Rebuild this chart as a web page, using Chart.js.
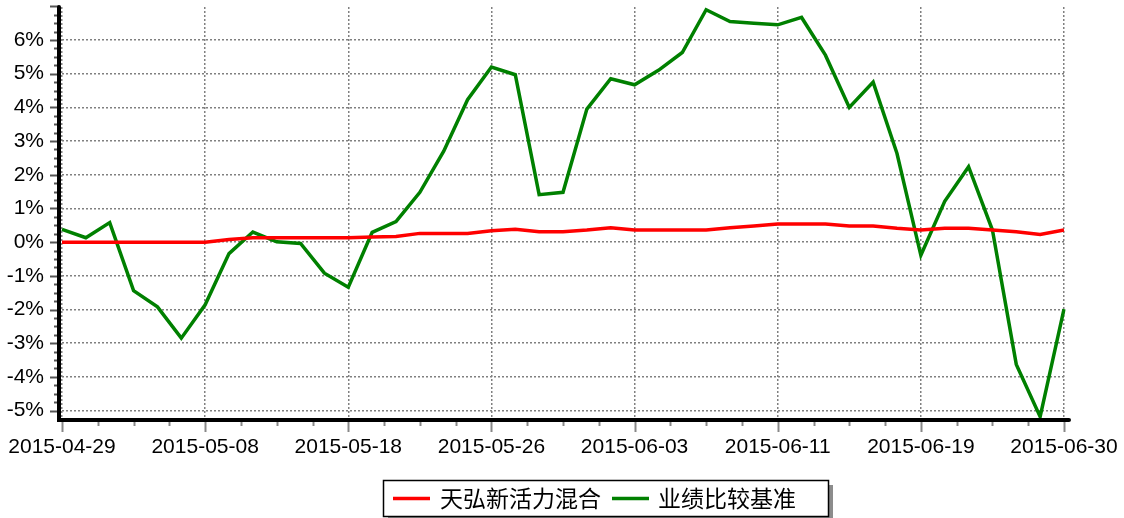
<!DOCTYPE html>
<html>
<head>
<meta charset="utf-8">
<script src="https://cdn.jsdelivr.net/npm/chart.js@4"></script>
<style>
  html, body { margin: 0; padding: 0; background: #fff; }
  #chart { display: block; }
</style>
</head>
<body>
<canvas id="chart" width="1124" height="518"></canvas>
<script>
// trading days shown on the x axis
const dates = [
  "2015-04-29", "2015-04-30", "2015-05-04", "2015-05-05", "2015-05-06", "2015-05-07", "2015-05-08",
  "2015-05-11", "2015-05-12", "2015-05-13", "2015-05-14", "2015-05-15", "2015-05-18",
  "2015-05-19", "2015-05-20", "2015-05-21", "2015-05-22", "2015-05-25", "2015-05-26",
  "2015-05-27", "2015-05-28", "2015-05-29", "2015-06-01", "2015-06-02", "2015-06-03",
  "2015-06-04", "2015-06-05", "2015-06-08", "2015-06-09", "2015-06-10", "2015-06-11",
  "2015-06-12", "2015-06-15", "2015-06-16", "2015-06-17", "2015-06-18", "2015-06-19",
  "2015-06-23", "2015-06-24", "2015-06-25", "2015-06-26", "2015-06-29", "2015-06-30"
];

// cumulative return, %
const fundReturn = [
  0, 0, 0, 0, 0, 0, 0, 0.08, 0.13, 0.13, 0.13, 0.13, 0.13,
  0.15, 0.17, 0.26, 0.26, 0.26, 0.34, 0.38, 0.31, 0.31, 0.36, 0.43, 0.36,
  0.36, 0.36, 0.36, 0.43, 0.48, 0.54, 0.54, 0.54, 0.48, 0.48, 0.41, 0.36,
  0.41, 0.41, 0.36, 0.31, 0.23, 0.36
];
const benchReturn = [
  0.38, 0.13, 0.58, -1.44, -1.92, -2.85, -1.86, -0.34, 0.30, 0.01, -0.04, -0.92, -1.34,
  0.29, 0.61, 1.48, 2.70, 4.23, 5.20, 4.97, 1.41, 1.48, 3.95, 4.85, 4.67,
  5.10, 5.63, 6.90, 6.55, 6.50, 6.45, 6.67, 5.55, 4.00, 4.75, 2.63, -0.39,
  1.21, 2.24, 0.36, -3.63, -5.18, -1.99
];

const seriesNames = ["天弘新活力混合", "业绩比较基准"];
const seriesColors = ["#ff0000", "#008000"];

// y tick values, %
const yTicks = [-5, -4, -3, -2, -1, 0, 1, 2, 3, 4, 5, 6];
const yMin = -5.25;
const yMax = 6.98;
const labelEvery = 6;

const numFont = { family: "'Liberation Sans', Arial, sans-serif", size: 21 };
const isInt = (v) => Math.abs(v - Math.round(v)) < 1e-6;

const noPad = (s) => {
  s.paddingLeft = 0;
  s.paddingRight = 0;
  s.paddingTop = 0;
  s.paddingBottom = 0;
};

// thick black axes plus major/minor tick marks
const axesPlugin = {
  id: "axes",
  afterDraw(chart) {
    const { ctx, chartArea } = chart;
    const xs = chart.scales.x;
    const ys = chart.scales.y;
    const axisX = chartArea.left - 3;
    const axisY = chartArea.bottom + 1;
    ctx.save();

    // y ticks
    ctx.strokeStyle = "#555";
    ctx.lineWidth = 2;
    for (let v = -5; v <= 7.001; v += 0.25) {
      const py = Math.round(ys.getPixelForValue(v)) + 0.5;
      const len = isInt(v) ? 7 : 3;
      ctx.beginPath();
      ctx.moveTo(axisX - 2 - len, py);
      ctx.lineTo(axisX, py);
      ctx.stroke();
    }

    // x ticks, every 1.5 trading days
    ctx.strokeStyle = "#888";
    for (let k = 0; k <= dates.length - 1 + 1e-6; k += 1.5) {
      const px = Math.round(xs.getPixelForValue(k)) + 0.5;
      const len = (isInt(k) && Math.round(k) % labelEvery === 0) ? 10 : 4;
      ctx.beginPath();
      ctx.moveTo(px, axisY);
      ctx.lineTo(px, axisY + 2 + len);
      ctx.stroke();
    }

    ctx.strokeStyle = "#000";
    ctx.lineWidth = 4;
    ctx.lineCap = "round";
    ctx.beginPath();
    ctx.moveTo(axisX, chartArea.top);
    ctx.lineTo(axisX, axisY);
    ctx.lineTo(chartArea.right + 5, axisY);
    ctx.stroke();
    ctx.restore();
  }
};

// boxed legend with a drop shadow
const legendPlugin = {
  id: "boxLegend",
  afterDraw(chart) {
    const { ctx } = chart;
    ctx.save();
    ctx.font = "23px 'Noto Sans CJK SC', sans-serif";
    const w = seriesNames.map((s) => ctx.measureText(s).width);
    const left = 383, top = 480, h = 36;
    const lineLen = 37;
    const width = 10 + lineLen + 10 + w[0] + 11 + lineLen + 9 + w[1] + 32;

    ctx.fillStyle = "#8c8c8c";
    ctx.fillRect(left + 5, top + 5, width, h);
    ctx.fillStyle = "#fff";
    ctx.fillRect(left, top, width, h);
    ctx.strokeStyle = "#000";
    ctx.lineWidth = 1.5;
    ctx.strokeRect(left + 0.5, top + 0.5, width, h);

    const cy = top + h / 2 + 0.5;
    let x = left + 10;
    ctx.textBaseline = "middle";
    seriesNames.forEach((name, i) => {
      ctx.strokeStyle = seriesColors[i];
      ctx.lineWidth = 3.5;
      ctx.beginPath();
      ctx.moveTo(x, cy);
      ctx.lineTo(x + lineLen, cy);
      ctx.stroke();
      x += lineLen + (i === 0 ? 10 : 9);
      ctx.fillStyle = "#000";
      ctx.fillText(name, x, cy);
      x += w[i] + 11;
    });
    ctx.restore();
  }
};

new Chart(document.getElementById("chart"), {
  type: "line",
  data: {
    labels: dates,
    datasets: [
      {
        label: seriesNames[0],
        data: fundReturn,
        borderColor: seriesColors[0],
        borderWidth: 3.5,
        pointRadius: 0,
        tension: 0,
        fill: false
      },
      {
        label: seriesNames[1],
        data: benchReturn,
        borderColor: seriesColors[1],
        borderWidth: 3.5,
        pointRadius: 0,
        tension: 0,
        fill: false
      }
    ]
  },
  options: {
    responsive: false,
    animation: false,
    layout: { padding: { top: 7, right: 60, left: 0, bottom: 0 } },
    plugins: {
      legend: { display: false },
      tooltip: { enabled: false }
    },
    scales: {
      x: {
        offset: false,
        grid: {
          color: (c) => (c.index % labelEvery === 0 ? "#808080" : "transparent"),
          lineWidth: 1.5,
          drawTicks: false
        },
        border: { display: false, dash: [2, 2] },
        ticks: {
          autoSkip: false,
          maxRotation: 0,
          padding: 16,
          color: "#000",
          font: numFont,
          callback: (v, i) => (i % labelEvery === 0 ? dates[i] : "")
        },
        afterFit: (s) => { s.height = 99; noPad(s); }
      },
      y: {
        min: yMin,
        max: yMax,
        afterBuildTicks: (s) => { s.ticks = yTicks.map((v) => ({ value: v })); },
        grid: {
          color: "#808080",
          lineWidth: 1.5,
          drawTicks: false
        },
        border: { display: false, dash: [2, 2] },
        ticks: {
          autoSkip: false,
          padding: 18,
          color: "#000",
          font: numFont,
          callback: (v) => v + "%"
        },
        afterFit: (s) => { s.width = 62; noPad(s); }
      }
    }
  },
  plugins: [axesPlugin, legendPlugin]
});
</script>
</body>
</html>
